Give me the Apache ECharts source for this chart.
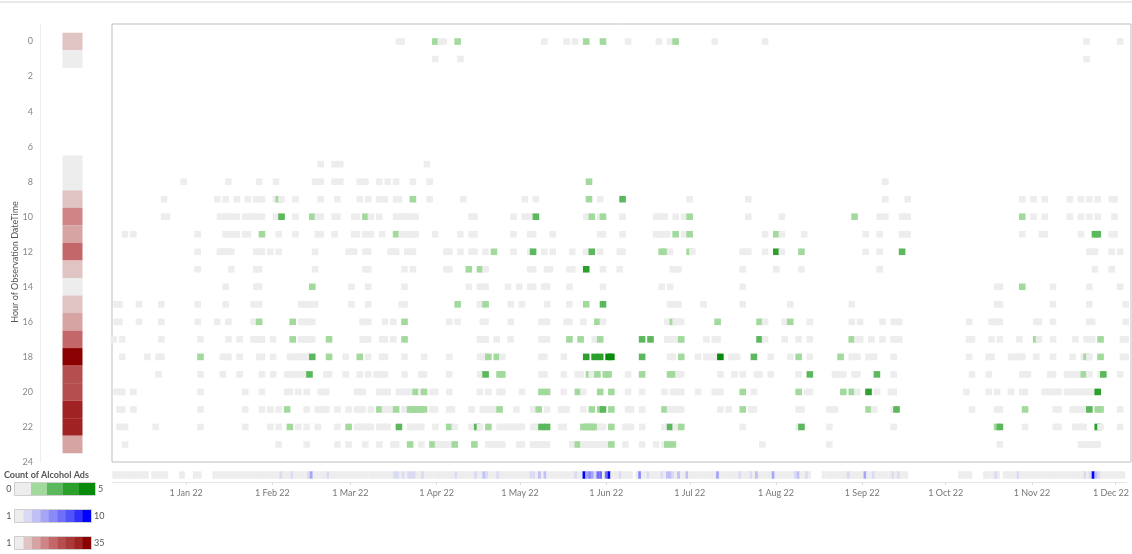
<!DOCTYPE html>
<html><head><meta charset="utf-8">
<script src="https://cdn.jsdelivr.net/npm/echarts@6/dist/echarts.min.js"></script>
<style>html,body{margin:0;padding:0;background:#fff}#c{width:1132px;height:554px}</style>
</head><body><div id="c"></div>
<script>
// Day numbers are days after 1 Jan 2022 (0 = 1 Jan 2022). Hours 0-23.
const monthDays = [0,31,59,90,120,151,181,212,243,273,304,334];
const monthLabels = ['1 Jan 22','1 Feb 22','1 Mar 22','1 Apr 22','1 May 22','1 Jun 22','1 Jul 22','1 Aug 22','1 Sep 22','1 Oct 22','1 Nov 22','1 Dec 22'];
const hourTicks = [0,2,4,6,8,10,12,14,16,18,20,22,24];

// total alcohol ads per hour of day (left column)
const hourTotals = [6,2,null,null,null,null,null,1,2,6,14,10,18,6,3,7,11,18,35,22,22,29,30,10];

// days on which observations were made (bottom strip)
const stripDays = [-26,-25,-24,-23,-22,-21,-20,-19,-18,-17,-16,-15,-14,-12,-11,-10,-9,-8,-7,-2,-1,3,4,5,
10,11,12,13,14,15,16,17,18,19,20,21,22,23,24,25,26,27,28,29,30,31,32,33,34,35,36,37,38,39,40,41,42,43,44,45,46,47,48,49,
50,51,52,53,54,55,56,57,58,59,60,61,62,63,64,65,66,67,68,69,70,71,72,73,74,75,76,77,78,79,80,81,82,83,84,85,86,87,88,89,
90,91,92,93,94,95,96,97,98,99,100,101,102,103,104,105,106,107,108,109,110,111,112,113,114,115,116,117,118,119,
120,121,122,123,124,125,126,127,128,129,130,131,132,133,134,135,136,137,138,139,140,141,142,143,144,145,146,147,148,149,
150,151,152,153,154,155,156,157,158,159,160,162,163,164,165,166,167,168,169,170,171,172,173,174,175,176,177,178,179,
180,181,182,183,184,185,186,187,188,189,190,191,192,193,194,195,196,197,198,199,200,201,202,203,204,205,206,207,208,209,
210,211,212,213,214,215,216,217,218,219,220,221,222,223,224,229,230,231,232,233,234,235,236,237,238,239,240,241,242,243,
244,245,246,247,248,249,250,251,252,253,254,255,256,257,258,259,278,279,280,281,282,287,288,289,290,291,292,
294,295,296,297,298,299,300,301,302,303,304,305,306,307,308,309,310,311,312,313,314,315,316,317,318,319,
320,321,322,323,324,325,326,327,328,329,330,331,332,333,334,335,336,337];

// observation days with no alcohol ads (grey) and days with ads [day, count], per hour
const noAds00 = [76,77,91,92,128,136,139,158,169,173,189,207,322,334];
const ads00 = [[89,1],[97,1],[143,1],[149,1],[175,1]];
const noAds01 = [89,98,322];
const ads01 = [];
const noAds02 = [], ads02 = [], noAds03 = [], ads03 = [], noAds04 = [], ads04 = [], noAds05 = [], ads05 = [], noAds06 = [], ads06 = [];
const noAds07 = [48,53,55,86];
const ads07 = [];
const noAds08 = [-1,15,26,32,46,48,53,55,62,64,69,72,75,81,87,250];
const ads08 = [[144,1]];
const noAds09 = [-8,11,14,18,22,25,26,27,32,34,39,48,54,62,65,69,70,71,75,76,87,99,121,125,148,180,201,250,258,299,303,307,316,320,323,326,331,332];
const ads09 = [[33,1],[81,1],[144,1],[156,2]];
const noAds10 = [-8,-7,12,13,14,15,16,17,18,21,22,23,24,25,26,27,32,39,47,48,53,54,60,61,66,69,75,76,77,78,79,80,81,82,102,103,117,121,122,123,124,143,148,156,168,169,170,171,175,178,201,213,248,249,250,256,257,258,303,307,316,320,323,326,332];
const ads10 = [[34,2],[45,1],[64,1],[125,2],[145,1],[149,1],[180,1],[239,1],[299,1]];
const noAds11 = [-22,-19,4,14,15,16,17,18,21,22,33,39,47,48,53,60,61,64,65,66,70,77,78,79,80,81,82,89,98,102,103,117,123,124,131,148,149,156,168,169,170,171,172,178,207,213,221,243,248,256,257,258,299,306,307,320,331,332];
const ads11 = [[27,1],[75,1],[175,1],[180,1],[211,1],[325,2],[326,2]];
const noAds12 = [4,12,13,14,15,16,25,26,27,30,33,46,58,59,60,64,65,73,74,75,79,80,81,93,94,98,102,103,107,117,123,128,131,138,143,148,155,156,173,181,199,200,201,207,213,243,248,323,324,325,331,334];
const ads12 = [[110,1],[124,2],[145,2],[170,1],[171,1],[180,1],[211,3],[220,1],[256,2]];
const noAds13 = [4,16,25,26,46,64,65,78,81,93,94,107,123,124,129,130,137,138,149,155,174,175,176,199,211,220,248,325,331];
const ads13 = [[101,1],[105,1],[143,3]];
const noAds14 = [14,25,26,59,65,78,101,105,106,107,115,119,123,124,128,129,137,149,170,173,199,290,291,310,323,334];
const ads14 = [[45,1],[299,1]];
const noAds15 = [-25,-24,-17,-9,4,14,24,25,26,41,42,43,44,45,46,59,65,77,78,105,116,120,129,137,173,174,175,176,185,199,216,238,290,291,310,323,336];
const ads15 = [[97,1],[107,1],[143,1],[149,2]];
const noAds16 = [-25,-24,-17,-9,4,11,15,24,41,42,43,44,45,63,64,65,71,74,94,97,106,107,116,127,128,129,136,137,142,149,172,173,175,176,177,207,214,223,238,241,249,253,254,255,280,288,289,290,291,304,305,310,323,324,336];
const ads16 = [[26,1],[38,1],[78,1],[147,1],[174,1],[190,1],[205,1],[216,1]];
const noAds17 = [-26,-23,-9,5,15,19,24,25,26,27,31,41,42,43,44,45,63,64,65,70,71,74,105,106,107,111,116,127,128,129,146,172,173,174,175,176,186,189,190,207,214,219,223,240,241,245,249,253,254,255,280,281,288,291,298,305,310,318,322,323,324,335,336];
const ads17 = [[38,1],[51,1],[78,1],[137,1],[141,1],[148,1],[163,2],[166,2],[177,1],[205,2],[238,1],[304,1],[327,1]];
const noAds18 = [-23,-14,-10,-9,13,14,15,19,26,27,31,37,38,39,40,41,42,43,57,65,70,71,78,85,94,105,106,107,113,127,128,135,173,174,183,186,187,188,189,190,195,196,197,209,216,223,238,239,240,244,245,246,253,280,287,288,295,296,297,298,299,304,310,317,321,323,335,336];
const ads18 = [[5,1],[45,2],[51,1],[62,1],[108,1],[111,1],[143,3],[146,3],[148,3],[151,5],[152,5],[163,2],[177,1],[191,4],[203,2],[219,1],[234,1],[322,1],[327,1]];
const noAds19 = [-10,5,13,19,27,31,36,37,38,39,40,42,50,51,57,62,65,68,69,70,71,78,84,85,94,105,127,128,135,140,141,145,158,176,177,191,196,199,204,205,209,219,232,233,234,235,239,240,253,281,287,299,300,301,309,310,315,316,317,318,319,323,327,334];
const ads19 = [[44,2],[107,2],[112,1],[113,1],[144,1],[147,1],[150,1],[151,1],[163,1],[173,1],[174,1],[223,2],[247,2],[321,1],[328,2]];
const noAds20 = [-25,-24,-23,-19,5,21,27,36,37,40,43,48,49,50,61,62,63,69,70,71,72,76,77,78,79,80,84,88,89,94,105,108,112,113,120,135,142,158,163,171,174,175,176,177,183,189,190,191,203,222,223,240,247,252,253,279,287,290,295,299,300,307,308,309,310,311,312,315,316,317,318,319,320,321,322,323,324];
const ads20 = [[82,1],[85,1],[127,1],[129,1],[140,1],[148,1],[152,1],[199,1],[219,1],[235,1],[238,1],[244,3],[326,3]];
const noAds21 = [-24,-23,-19,5,21,27,30,33,43,47,48,49,50,54,58,61,62,63,66,71,72,73,74,78,88,89,94,95,102,106,107,108,109,110,118,124,129,134,135,136,142,158,159,163,173,174,175,176,177,191,194,202,203,219,220,230,231,232,246,253,281,290,291,311,312,317,318,319,320,321,334];
const ads21 = [[36,1],[69,1],[75,1],[80,1],[81,1],[82,1],[83,1],[84,1],[85,1],[112,1],[126,1],[145,1],[148,1],[149,2],[152,1],[171,1],[199,1],[244,1],[254,2],[300,1],[323,2],[326,1],[327,1]];
const noAds22 = [-24,-23,-22,-11,5,21,30,33,40,43,47,54,61,62,63,64,65,66,69,70,71,72,80,81,82,83,84,89,96,102,105,112,113,114,115,116,117,118,119,120,124,125,134,135,148,149,157,158,159,163,171,175,199,219,230,253,300,311,312,318,319,320,321,327,334];
const ads22 = [[37,1],[58,1],[76,2],[94,1],[104,2],[108,1],[127,2],[129,2],[142,1],[143,1],[144,1],[145,1],[146,1],[152,1],[173,2],[177,1],[220,2],[290,1],[291,2],[326,3]];
const noAds23 = [-22,33,43,54,58,64,69,74,75,84,90,91,92,93,94,108,109,110,111,112,113,119,120,124,125,126,127,128,129,138,142,143,144,145,146,147,148,149,150,157,163,168,171,206,230,291,320,321,322,323,324,325,326];
const ads23 = [[80,1],[88,1],[96,1],[103,1],[140,1],[152,1],[172,1],[174,1]];

const noAdsByHour = [noAds00,noAds01,noAds02,noAds03,noAds04,noAds05,noAds06,noAds07,noAds08,noAds09,noAds10,noAds11,noAds12,noAds13,noAds14,noAds15,noAds16,noAds17,noAds18,noAds19,noAds20,noAds21,noAds22,noAds23];
const adsByHour = [ads00,ads01,ads02,ads03,ads04,ads05,ads06,ads07,ads08,ads09,ads10,ads11,ads12,ads13,ads14,ads15,ads16,ads17,ads18,ads19,ads20,ads21,ads22,ads23];

const cells = [];
for (let h = 0; h < 24; h++) {
  noAdsByHour[h].forEach(d => cells.push([d, h, 0]));
  adsByHour[h].forEach(p => cells.push([p[0], h, p[1]]));
}
cells.sort((a, b) => a[0] - b[0] || a[1] - b[1]);

// daily totals of ads, summed from the cells
const dayTotals = new Map();
cells.forEach(c => dayTotals.set(c[0], (dayTotals.get(c[0]) || 0) + c[2]));
const stripData = stripDays.map(d => [d, 0, dayTotals.get(d) || 0]);
const hourData = hourTotals.map((v, h) => v == null ? null : [0, h, v]).filter(Boolean);

// styling
const X_MIN = -26.65, X_MAX = 337.9;
const GREY = '#ededed';
const FONT = 'Lato, "Open Sans", sans-serif';
const greenColors = [GREY, '#a2d99c', '#5cb85c', '#2ca02c', '#0a8a0a'];
const greenBreaks = [0, 1, 2, 3, 4];
const blueColors = [GREY, '#dadaf5', '#c0c0f6', '#a6a6f7', '#8b8bf8', '#6f6ff9', '#5353fa', '#3030fc', '#0000ff'];
const blueBreaks = [-Infinity, 2, 3, 4, 5, 6, 7, 8, 9];
const redColors = [GREY, '#e0c3c3', '#d7a4a4', '#cf8585', '#c4676a', '#b54e4e', '#aa3939', '#a02222', '#8b0000'];
const redBreaks = [-Infinity, 4.78, 8.56, 12.33, 16.11, 19.89, 23.67, 27.44, 31.22];

function piecesFrom(breaks, colors) {
  return colors.map((c, i) => {
    const p = {color: c};
    if (isFinite(breaks[i])) p.gte = breaks[i];
    if (i < breaks.length - 1) p.lt = breaks[i + 1];
    return p;
  });
}

function legendBar(colors, y, w, lo, hi) {
  const els = [];
  const bw = w / colors.length;
  colors.forEach((c, i) => els.push({type: 'rect', silent: true,
    shape: {x: 15 + bw * i, y: y, width: bw + 0.4, height: 12}, style: {fill: c}}));
  els.push({type: 'rect', silent: true, shape: {x: 14.5, y: y - 0.5, width: w + 1, height: 13},
    style: {fill: null, stroke: '#cfcfcf', lineWidth: 1}});
  els.push({type: 'text', silent: true, x: 11.5, y: y + 6,
    style: {text: lo, fontSize: 9, fontFamily: FONT, fill: '#555', align: 'right', verticalAlign: 'middle'}});
  els.push({type: 'text', silent: true, x: 15 + w + 3, y: y + 6,
    style: {text: hi, fontSize: 9, fontFamily: FONT, fill: '#555', align: 'left', verticalAlign: 'middle'}});
  return els;
}

const chart = echarts.init(document.getElementById('c'), null, {renderer: 'canvas'});
chart.setOption({
  animation: false,
  textStyle: {fontFamily: FONT},
  grid: [
    {left: 40, top: 24, width: 65, height: 438},
    {left: 112, top: 24, right: 1, height: 438, show: true, borderColor: '#bdbdbd', borderWidth: 1, backgroundColor: '#fff'},
    {left: 112, right: 1, top: 468, height: 14}
  ],
  xAxis: [
    {gridIndex: 0, type: 'value', min: -1, max: 1, show: false},
    {gridIndex: 1, type: 'value', min: X_MIN, max: X_MAX, show: false},
    {gridIndex: 2, type: 'value', min: X_MIN, max: X_MAX,
      axisLine: {show: true, onZero: false, lineStyle: {color: '#e6e6e6'}},
      axisTick: {show: true, customValues: monthDays, length: 3, lineStyle: {color: '#dddddd'}},
      splitLine: {show: false},
      axisLabel: {customValues: monthDays, color: '#777', fontSize: 9, fontFamily: FONT, margin: 7,
        formatter: v => {
          const i = monthDays.indexOf(Math.round(v));
          if (i < 0) return '';
          return i === monthDays.length - 1 ? '{d|' + monthLabels[i] + '}' : monthLabels[i];
        },
        rich: {d: {color: '#777', fontSize: 9, fontFamily: FONT, padding: [0, 9, 0, 0]}}
      }}
  ],
  yAxis: [
    {gridIndex: 0, type: 'value', inverse: true, min: -1, max: 24,
      axisLine: {show: true, onZero: false, lineStyle: {color: '#efefef'}},
      axisTick: {show: false}, splitLine: {show: false},
      axisLabel: {customValues: hourTicks, color: '#888', fontSize: 9, fontFamily: FONT, margin: 7}},
    {gridIndex: 1, type: 'value', inverse: true, min: -1, max: 24, show: false},
    {gridIndex: 2, type: 'value', min: -1, max: 1, show: false}
  ],
  visualMap: [
    {type: 'piecewise', show: false, seriesIndex: 1, dimension: 2, pieces: piecesFrom(greenBreaks, greenColors)},
    {type: 'piecewise', show: false, seriesIndex: 2, dimension: 2, pieces: piecesFrom(blueBreaks, blueColors)},
    {type: 'piecewise', show: false, seriesIndex: 0, dimension: 2, pieces: piecesFrom(redBreaks, redColors)}
  ],
  series: [
    {type: 'scatter', xAxisIndex: 0, yAxisIndex: 0, data: hourData, symbol: 'rect', symbolSize: [20, 17.6], silent: true, itemStyle: {opacity: 1}},
    {type: 'scatter', xAxisIndex: 1, yAxisIndex: 1, data: cells, symbol: 'rect', symbolSize: 6.6, silent: true, itemStyle: {opacity: 1}},
    {type: 'scatter', xAxisIndex: 2, yAxisIndex: 2, data: stripData, symbol: 'rect', symbolSize: [3, 7.5], silent: true, itemStyle: {opacity: 1}}
  ],
  graphic: [
    {type: 'rect', shape: {x: 0, y: 1, width: 1132, height: 2}, style: {fill: '#e9e9e9'}, silent: true},
    {type: 'text', x: 15, y: 262, rotation: Math.PI / 2,
      style: {text: 'Hour of Observation DateTime', fontSize: 9, fontFamily: FONT, fill: '#555', align: 'center', verticalAlign: 'middle'}},
    {type: 'text', x: 4, y: 475,
      style: {text: 'Count of Alcohol Ads', fontSize: 9, fontWeight: 'bold', fontFamily: FONT, fill: '#555', verticalAlign: 'middle'}}
  ].concat(legendBar(greenColors, 483, 80, '0', '5'))
   .concat(legendBar(blueColors, 510, 76, '1', '10'))
   .concat(legendBar(redColors, 537, 76, '1', '35'))
});
</script></body></html>
